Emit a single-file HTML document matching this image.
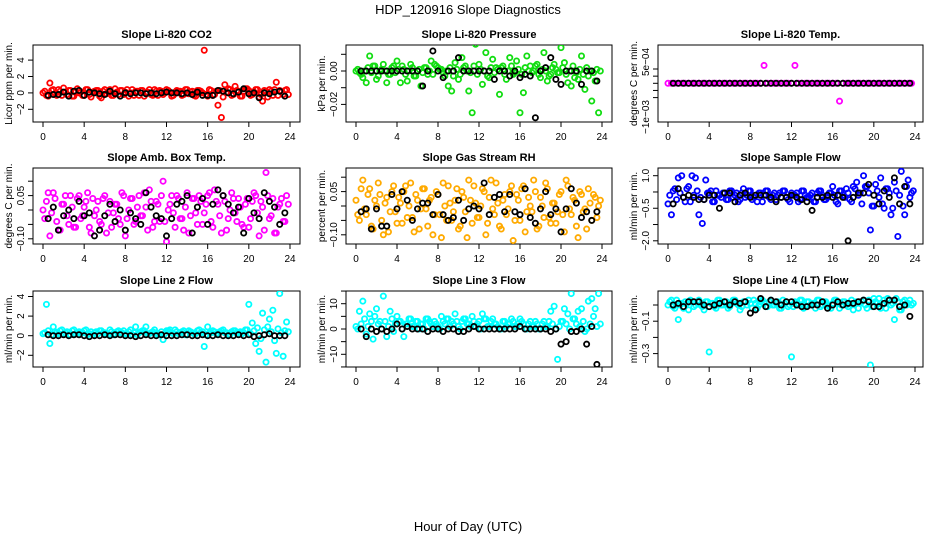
<!DOCTYPE html>
<html><head><meta charset="utf-8"><style>
html,body{margin:0;padding:0;background:#fff;}
svg{display:block;font-family:"Liberation Sans",sans-serif;}
</style></head><body>
<svg id="chart" width="936" height="540" viewBox="0 0 936 540">
<rect width="936" height="540" fill="#fff"/>
<text x="468" y="14" font-size="13" text-anchor="middle">HDP_120916  Slope Diagnostics</text>
<text x="468" y="531" font-size="13" text-anchor="middle">Hour of Day (UTC)</text>
</svg>
<script>
const xTicks = [0,4,8,12,16,20,24];

const co2Col = [0,-0.3,1.2,0.4,-0.3,0.2,0.6,-0.2,0.3,-0.4,0.5,0.1,-0.3,0.4,-0.5,0.2,0.3,-0.6,0.4,0.1,-0.3,0.5,-0.2,0.3,0.1,-0.4,0.4,0.2,-0.3,0.3,0.0,0.4,-0.3,0.2,0.3,-0.2,0.4,0.1,-0.3,0.3,0.2,-0.2,0.4,0.1,-0.3,0.3,0.2,5.2,-0.4,0.3,-0.2,-1.5,-3.0,1.0,0.5,-0.3,0.8,0.2,-0.4,0.5,0.3,-0.2,0.4,-0.5,-1.0,0.2,0.4,-0.3,1.3,0.3,-0.2,0.4];
const co2Col2 = [0.2,-0.4,0.3,-0.1,0.4,-0.3,0.1,0.3,-0.4,0.2,0,-0.3,0.4,-0.2,0.1,0.3,-0.4,0.2,-0.1,0.4,-0.3,0.1,0.3,-0.2,0.4,0,-0.3,0.2,0.3,-0.4,0.1,-0.2,0.4,-0.3,0.2,0,0.3,-0.4,0.1,0.2,-0.3,0.4,-0.1,0.2,-0.4,0.3,0,-0.2,0.4,-0.3,0.2,0.3,-0.5,0.1,0.4,-0.2,0.3,-0.4,0.2,0.5,-0.3,0.1,0.4,-0.2,0.3,-0.5,0.2,0.4,-0.3,0.1,0.3,-0.2];
const co2Blk = [-0.3,-0.2,-0.2,0.1,-0.4,0.2,0.3,-0.3,0.1,0,-0.1,-0.2,0.2,-0.1,-0.4,0,-0.1,0,0,-0.1,0,-0.1,0,0.1,0,0,-0.1,0,-0.2,0.1,-0.3,-0.3,-0.3,0.3,0.2,0,-0.1,0.1,0.5,-0.1,0,-0.6,0,-0.1,0.1,0.2,-0.4];

const presCol = [0,-1,-4,-7,9,3,-5,0,4,-7,-2,3,6,-7,1,-6,4,-3,0,-9,2,-2,6,4,2,1,-3,-9,-12,5,-5,8,3,-12,-25,16,4,-8,11,-4,7,2,-14,3,-5,8,-2,6,-25,-13,9,3,0,4,-4,11,-6,-2,4,-1,14,5,-7,-9,-4,-5,9,-11,-3,-18,-6,-25];
const presCol2 = [1,-2,0,2,-1,3,-3,1,0,-2,2,-1,1,3,-2,0,2,-3,1,-1,2,0,-2,3,1,-1,0,2,-3,1,-2,2,0,-1,3,-2,1,0,-3,2,-1,1,2,-2,0,3,-1,1,-2,2,0,-1,3,-2,1,0,-3,2,1,-1,2,-2,0,3,-1,1,-2,2,0,-1,1,0];
const presBlk = [0,0,0,0,0,0,0,0,0,0,0,0,-9,0,12,0,-4,0,0,8,0,0,0,0,0,0,-5,0,0,-3,0,-4,-2,-3,-28,0,2,8,-5,-8,0,0,0,-8,0,0,-6];

const tempCol = [0,0,0,0,0,0,0,0,0,0,0,0,0,0,0,0,0,0,0,0,0,0,0,0,0,0,0,0,12.5,0,0,0,0,0,0,0,0,12.5,0,0,0,0,0,0,0,0,0,0,0,0,-12.5,0,0,0,0,0,0,0,0,0,0,0,0,0,0,0,0,0,0,0,0,0];
const tempBlk = [0,0,0,0,0,0,0,0,0,0,0,0,0,0,0,0,0,0,0,0,0,0,0,0,0,0,0,0,0,0,0,0,0,0,0,0,0,0,0,0,0,0,0,0,0,0,0];

const ambCol = [0,3,-9,6,-4,-7,2,-2,5,-6,4,-3,1,6,-8,-2,3,-5,5,-1,-6,2,-3,6,-9,0,4,-4,5,-2,1,7,-6,3,-4,10,-11,2,-1,5,-3,-7,6,-2,4,-5,3,-1,5,-4,7,2,-8,3,-3,6,-1,4,-5,2,-6,3,5,-9,1,13,-3,4,-8,2,-4,5];
const ambCol2 = [-3,6,-1,4,-7,2,5,-5,1,-6,5,-2,3,-6,4,0,-4,4,-8,3,-1,2,-5,5,-3,4,-5,1,-2,6,-7,3,-4,2,5,-4,0,5,-6,4,-3,1,-8,4,-1,5,-5,2,6,-6,3,-2,5,-7,0,4,-4,1,-6,4,-3,6,-1,3,-7,5,-2,-8,1,4,-4,2];
const ambBlk = [-3,1,-7,-2,0,-3,3,-2,-1,-9,-7,-2,2,-4,0,-7,-1,-3,-5,6,1,-2,-3,-9,-3,2,3,5,-8,1,4,-5,2,7,5,2,-1,1,-8,4,-1,-3,6,3,1,-5,-1];

const rhCol = [2,-5,9,-3,6,-8,0,4,-10,3,-2,7,-6,1,5,-4,8,-9,2,-1,6,-7,3,-3,4,-11,0,7,-5,2,-8,5,-2,9,-6,1,-4,6,-10,3,-1,8,-7,2,-3,5,-12,4,-5,7,-2,0,9,-8,3,-4,6,-6,1,-2,5,-9,7,-3,2,-11,4,-1,6,-5,3,0];
const rhCol2 = [-3,6,-1,4,-7,2,8,-5,1,-9,5,-2,3,-6,7,0,-4,4,-8,6,-1,2,-10,5,-3,8,-5,1,-2,6,-7,3,-11,2,7,-4,0,5,-6,9,-3,1,-8,4,-1,7,-5,2,6,-9,3,-2,5,-7,0,8,-4,1,-6,4,-3,9,-1,3,-7,5,-2,-8,1,4,-4,2];
const rhBlk = [-2,-1,-8,-1,-7,-7,4,-1,5,2,-5,-1,1,1,-3,4,-3,-5,-4,2,-5,-1,0,-1,8,-3,3,4,-2,4,-2,-3,6,-4,-6,-1,5,-3,-1,-9,-1,6,1,-4,-2,-5,-2];

const sfCol = [-0.3,-0.8,0.4,0.9,1.0,-0.2,0.5,1.0,0.9,-0.8,-1.2,0.8,0.2,-0.2,0.3,0.1,0.2,-0.1,0.3,0,0.2,-0.1,0.4,0.1,0.3,0,-0.2,0.2,0.1,0.3,-0.1,0.2,0.1,0,0.3,-0.1,0.2,0.1,-0.2,0.3,0.1,0,0.2,-0.2,0.3,0.1,-0.1,0.2,0.5,-0.2,0.3,0.1,0.4,-0.1,0.5,0.7,0.2,1.0,0.5,-1.5,-0.4,0.3,0.9,-0.5,0.4,-0.8,0.7,-1.8,1.2,-0.8,0.8,0.2];
const sfCol2 = [0.1,0.3,-0.1,0.2,0,0.4,-0.2,0.1,0.3,0,-0.1,0.2,0.3,-0.2,0.1,0,0.2,-0.1,0.3,0.1,-0.2,0.2,0,0.3,-0.1,0.1,0.2,-0.2,0.3,0,0.1,-0.1,0.2,0.3,0,-0.2,0.1,0.2,-0.1,0.3,0,0.1,-0.2,0.2,0.3,-0.1,0,0.2,0.1,-0.3,0.3,0,0.2,-0.2,0.4,0.1,-0.3,0.5,0.2,-0.4,0.6,0,-0.3,0.4,0.2,-0.5,0.3,0.1,-0.4,0.5,0,0.3];
const sfBlk = [-0.3,0.4,0,0.1,0,-0.1,-0.1,0.1,0.1,-0.5,0.2,0.2,-0.2,0.1,0.2,0,0.1,0.1,0.1,0,-0.2,0,0,0.1,0,-0.1,-0.2,-0.6,0,0,0.1,0,0.1,0,-2.0,0,0.2,0.2,0.6,0.1,-0.3,0.3,0,0.9,-0.3,0.5,-0.3];

const l2Col = [0.2,3.2,-0.8,0.9,0.3,0.5,0.2,0.4,0.1,0.6,0.3,0.2,0.5,0.1,0.4,0.3,0.2,0.5,0.3,0.1,0.4,0.2,0.5,0.3,0.2,0.4,0.1,0.9,0.3,0.5,0.9,0.2,0.4,0.3,0.1,-0.4,0.5,0.6,0.2,0.4,0.3,0.5,0.1,0.4,0.2,0.5,0.3,-1.1,0.9,0.3,0.4,0.2,0.5,0.3,0.1,0.4,0.5,0.3,0.2,0.6,3.2,1.3,-0.8,-1.6,2.3,-2.7,1.7,2.6,-1.8,4.3,-2.1,1.4];
const l2Col2 = [0.3,0.5,0.1,0.4,0.2,0.6,0.3,0.1,0.5,0.2,0.4,0.3,0.6,0.2,0.1,0.4,0.5,0.3,0.2,0.6,0.1,0.4,0.3,0.5,0.2,0.6,0.3,0.1,0.4,0.5,0.2,0.3,0.6,0.1,0.4,0.2,0.5,0.3,0.6,0.2,0.4,0.1,0.5,0.3,0.2,0.6,0.4,0.1,0.3,0.5,0.2,0.4,0.6,0.3,0.1,0.5,0.2,0.4,0.3,0.6,0.2,0.5,0.8,-0.3,0.6,0.9,0.4,-0.5,0.7,0.3,0.5,0.4];
const l2Blk = [0.1,0,0,0.1,0,0.1,0.1,0,-0.1,0,0,0.1,0,0.1,0.1,0,0,-0.1,0,0.1,0,0,0.1,0,0,0,0.1,0.1,0,0,0.1,0,0,0.1,0,0,0,0.1,0,0.1,-0.1,0,0.1,0.2,0,0,0];

const l3Col = [1,7,11,-2,6,-4,8,3,13,-3,7,-1,5,3,-3,2,4,1,3,2,0,4,2,3,1,5,2,4,3,6,1,3,4,2,5,1,3,6,4,1,4,2,0,3,1,2,3,1,4,2,0,3,1,2,0,3,1,7,9,-12,3,8,6,14,4,7,8,-1,11,12,8,14];
const l3Col2 = [0,2,4,1,3,5,2,0,3,1,4,2,3,0,2,4,1,3,0,2,4,3,1,2,0,3,4,1,2,3,0,4,2,1,3,2,0,4,1,3,2,1,0,3,2,4,1,2,3,0,2,1,3,0,2,1,3,2,0,1,3,2,0,4,2,1,3,0,2,5,1,2];
const l3Blk = [0,-3,0,-1,0,-1,0,2,0,1,0,0,0,-1,0,0,-1,0,0,-1,-1,0,1,0,0,0,0,0,0,0,0,1,0,0,0,0,0,-1,0,-6,-5,-1,-1,0,-6,1,-14];

const l4Col = [0,0.03,-0.02,-0.09,0.01,0.02,-0.03,0.02,0,0.03,-0.01,0.02,-0.29,0.01,-0.02,0.03,0,0.02,-0.01,0.03,0.01,-0.03,0.02,0,0.01,0.03,-0.02,0.02,0.01,-0.01,0.03,0,0.02,-0.02,0.01,-0.01,-0.32,0.02,0,0.03,-0.01,0.02,0.01,-0.02,0.03,0,0.02,-0.01,0.01,0.03,-0.02,0.02,0,0.01,-0.03,0.02,0.01,0.03,-0.02,-0.37,0.04,0.01,-0.02,0.03,0.04,0,-0.09,0.02,-0.03,0.03,0.01,0];
const l4Col2 = [0.02,-0.01,0.03,0,-0.02,0.01,0.03,-0.01,0.02,0,-0.03,0.02,0.01,-0.01,0.03,0,0.02,-0.02,0.01,0.03,0,-0.01,0.02,0.03,-0.02,0.01,0,0.03,-0.01,0.02,0,0.01,-0.02,0.03,0.02,0,-0.01,0.01,0.03,-0.02,0.02,0,0.01,0.03,-0.01,0.02,0,-0.02,0.03,0.01,0,0.02,-0.01,0.03,0.01,-0.02,0.02,0,0.03,-0.01,0.02,0.04,0,-0.02,0.03,0.01,0.04,-0.03,0.02,0,0.03,0.01];
const l4Blk = [0,0.01,-0.01,0.02,0.02,0.02,0,-0.01,0,0.01,0.02,0,0.02,0.01,0.02,-0.05,-0.03,0.04,-0.01,0.03,0.02,0,0.02,0.02,0,-0.01,-0.01,0,0,0.02,-0.02,0,0.02,0,0.01,0.01,0.02,0.03,0.02,-0.01,-0.01,0.01,0.03,0.03,-0.01,0,-0.07];

const NS='http://www.w3.org/2000/svg';
const svg=document.getElementById('chart');
function mk(tag,attrs,parent){const e=document.createElementNS(NS,tag);for(const k in attrs)e.setAttribute(k,attrs[k]);(parent||svg).appendChild(e);return e;}

const cols=[{l:33,r:300,x0:43,x24:290,yt:8},{l:346,r:612,x0:356,x24:602,yt:321},{l:658,r:923,x0:668,x24:915,yt:633}];
const rows=[{t:45,b:122},{t:168,b:244},{t:291,b:367}];

const panels=[
 {name:'co2',title:'Slope Li-820 CO2',ylab:'Licor ppm per min.',c:0,r:0,color:'#ff0000',p0:92.9,ppu:8.2,ticks:[-2,0,2,4],labels:{'-2':'\u22122','0':'0','2':'2','4':'4'},cols:[co2Col,co2Col2],blk:co2Blk},
 {name:'pressure',title:'Slope Li-820 Pressure',ylab:'kPa per min.',c:1,r:0,color:'#11dd11',p0:71,ppu:1.67,ticks:[10,0,-10,-20],labels:{'0':'0.00','-20':'\u22120.02'},cols:[presCol,presCol2],blk:presBlk},
 {name:'temp',title:'Slope Li-820 Temp.',ylab:'degrees C per min.',c:2,r:0,color:'#ff00ff',p0:83.3,ppu:1.43,ticks:[10,5,0,-5,-10],labels:{},cols:[tempCol],blk:tempBlk,custom:[['5e\u221204',62],['\u22121e\u221203',117]]},
 {name:'amb-temp',title:'Slope Amb. Box Temp.',ylab:'degrees C per min.',c:0,r:1,color:'#ff00ff',p0:210,ppu:2.88,ticks:[10,5,0,-5,-10],labels:{'5':'0.05','-10':'\u22120.10'},cols:[ambCol,ambCol2],blk:ambBlk},
 {name:'gas-rh',title:'Slope Gas Stream RH',ylab:'percent per min.',c:1,r:1,color:'#ffaa00',p0:206,ppu:2.88,ticks:[10,5,0,-5,-10],labels:{'5':'0.05','-10':'\u22120.10'},cols:[rhCol,rhCol2],blk:rhBlk},
 {name:'sample-flow',title:'Slope Sample Flow',ylab:'ml/min per min.',c:2,r:1,color:'#0000ff',p0:197.4,ppu:21.7,ticks:[1,0.25,-0.5,-1.25,-2],labels:{'1':'1.0','-0.5':'\u22120.5','-2':'\u22122.0'},cols:[sfCol,sfCol2],blk:sfBlk},
 {name:'line2-flow',title:'Slope Line 2 Flow',ylab:'ml/min per min.',c:0,r:2,color:'#00ffff',p0:335.7,ppu:9.8,ticks:[4,2,0,-2],labels:{'4':'4','2':'2','0':'0','-2':'\u22122'},cols:[l2Col,l2Col2],blk:l2Blk},
 {name:'line3-flow',title:'Slope Line 3 Flow',ylab:'ml/min per min.',c:1,r:2,color:'#00ffff',p0:329,ppu:2.53,ticks:[15,10,5,0,-5,-10,-15],labels:{'10':'10','0':'0','-10':'\u221210'},cols:[l3Col,l3Col2],blk:l3Blk},
 {name:'line4-flow',title:'Slope Line 4 (LT) Flow',ylab:'ml/min per min.',c:2,r:2,color:'#00ffff',p0:305,ppu:162,ticks:[0,-0.1,-0.2,-0.3],labels:{'-0.1':'\u22120.1','-0.3':'\u22120.3'},cols:[l4Col,l4Col2],blk:l4Blk}
];

panels.forEach(p=>{
  const C=cols[p.c],R=rows[p.r];
  const g=mk('g',{});
  
  
  const xs=h=>C.x0+(C.x24-C.x0)*h/24;
  const ys=v=>p.p0-v*p.ppu;
  const cid='clip-'+p.name;
  const cp=mk('clipPath',{id:cid},g);mk('rect',{x:C.l,y:R.t,width:C.r-C.l,height:R.b-R.t},cp);
  const t=mk('text',{x:(C.l+C.r)/2,y:R.t-7,'font-size':11,'font-weight':'bold','text-anchor':'middle'},g);
  t.textContent=p.title;
  
  
  const yl=mk('text',{x:C.yt,y:(R.t+R.b)/2,'font-size':10,'text-anchor':'middle',transform:`rotate(-90 ${C.yt} ${(R.t+R.b)/2})`,dy:'4'},g);
  yl.textContent=p.ylab;
  
  
  const box=mk('rect',{x:C.l,y:R.t,width:C.r-C.l,height:R.b-R.t,fill:'none',stroke:'#000','stroke-width':1},g);
  
  
  const xa=mk('g',{stroke:'#000'},g);
  
  
  mk('line',{x1:xs(0),x2:xs(24),y1:R.b,y2:R.b},xa);
  xTicks.forEach(h=>{
    mk('line',{x1:xs(h),x2:xs(h),y1:R.b,y2:R.b+5},xa);
    const tl=mk('text',{x:xs(h),y:R.b+18,'font-size':10,'text-anchor':'middle',stroke:'none'},g);
    tl.textContent=h;
    
    
  });
  const ya=mk('g',{stroke:'#000'},g);
  
  
  mk('line',{x1:C.l,x2:C.l,y1:ys(p.ticks[0]),y2:ys(p.ticks[p.ticks.length-1])},ya);
  p.ticks.forEach(v=>{
    mk('line',{x1:C.l,x2:C.l-5,y1:ys(v),y2:ys(v)},ya);
    const lab=p.labels[String(v)];
    if(lab!==undefined){
      const yy=ys(v),xx=C.l-9;
      const tl=mk('text',{x:xx,y:yy,'font-size':10,'text-anchor':'middle',transform:`rotate(-90 ${xx} ${yy})`},g);
      tl.textContent=lab;
      
      
    }
  });
  (p.custom||[]).forEach(([lab,yy])=>{
    const xx=C.l-9;
    const tl=mk('text',{x:xx,y:yy,'font-size':10,'text-anchor':'middle',transform:`rotate(-90 ${xx} ${yy})`},g);
    tl.textContent=lab;
    
    
  });
  const pg=mk('g',{'clip-path':`url(#${cid})`,fill:'none','stroke-width':1.8},g);
  p.cols.forEach((arr,ai)=>{
    const n=arr.length;
    arr.forEach((v,i)=>{
      const h=i*24/n+ai*0.17;
      const c=mk('circle',{cx:xs(h),cy:ys(v),r:2.6,stroke:p.color},pg);
      
      
    });
  });
  const nb=p.blk.length;
  p.blk.forEach((v,k)=>{
    const h=0.5+k*23/(nb-1);
    const c=mk('circle',{cx:xs(h),cy:ys(v),r:2.6,stroke:'#000'},pg);
    
    
  });
});
</script>
</body></html>
